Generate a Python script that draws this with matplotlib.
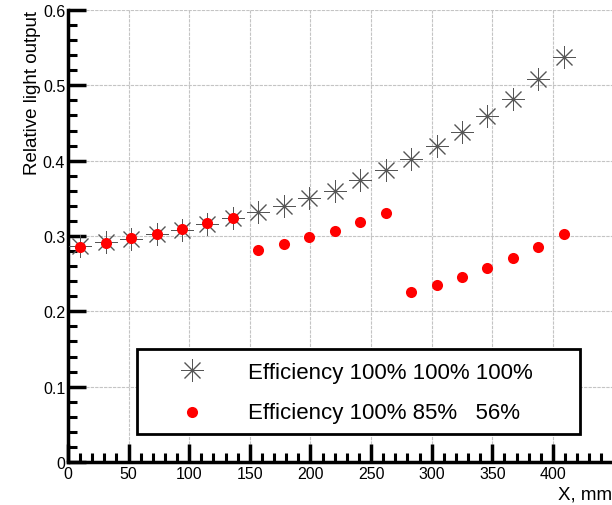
import numpy as np
import matplotlib
matplotlib.use("Agg")
from matplotlib import pyplot as plt
from matplotlib.ticker import MultipleLocator, FixedLocator

plt.rcParams['font.family'] = ['Liberation Sans', 'DejaVu Sans']

# positions along the bar, mm
x_mm = [10, 31, 52, 73, 94, 115, 136, 157, 178, 199,
        220, 241, 262, 283, 304, 325, 346, 367, 388, 409]

# light output, all segments at full efficiency
light_full = [0.287, 0.292, 0.296, 0.303, 0.308, 0.316, 0.324, 0.332, 0.340, 0.351,
              0.360, 0.374, 0.388, 0.402, 0.420, 0.438, 0.459, 0.482, 0.509, 0.538]

# light output, segments at 100% / 85% / 56%
light_reduced = [0.286, 0.291, 0.297, 0.302, 0.309, 0.317, 0.324, 0.282, 0.290, 0.299,
                 0.307, 0.319, 0.330, 0.226, 0.235, 0.245, 0.257, 0.271, 0.286, 0.302]

label_full = "Efficiency 100% 100% 100%"
label_reduced = "Efficiency 100% 85%   56%"

star = dict(marker=(8, 2, 0), markersize=16, markeredgewidth=0.7, color='#555555')
dot = dict(marker='o', markersize=8, markeredgewidth=0, color='#ff0000')

fig = plt.figure(figsize=(6.12, 5.06), dpi=100)
ax = fig.add_axes([68 / 612, 43 / 506, (612 - 68) / 612, (463 - 11) / 506])

ax.plot(x_mm, light_full, linestyle='none', zorder=3, **star)
ax.plot(x_mm, light_reduced, linestyle='none', zorder=4, **dot)

ax.set_xlim(0, 448.7)
ax.set_ylim(0, 0.6)

for s in ['top', 'right']:
    ax.spines[s].set_visible(False)
for s in ['left', 'bottom']:
    ax.spines[s].set_linewidth(2.5)

ax.xaxis.set_major_locator(FixedLocator([0, 50, 100, 150, 200, 250, 300, 350, 400, 450]))
ax.xaxis.set_minor_locator(MultipleLocator(10))
ax.yaxis.set_major_locator(MultipleLocator(0.1))
ax.yaxis.set_minor_locator(MultipleLocator(0.02))
ax.set_xticklabels(['0', '50', '100', '150', '200', '250', '300', '350', '400', ''])
ax.set_yticks([0, 0.1, 0.2, 0.3, 0.4, 0.5, 0.6])
ax.set_yticklabels(['0', '0.1', '0.2', '0.3', '0.4', '0.5', '0.6'])

ax.tick_params(which='major', direction='in', length=13, width=2.5, labelsize=11.5, pad=3)
ax.tick_params(which='minor', direction='in', length=6.5, width=2.2)
ax.tick_params(axis='y', which='major', pad=2)

ax.grid(True, which='major', color='#c4c4c4', linewidth=0.8, linestyle=(0, (3, 1)))
ax.set_axisbelow(True)

ax.set_ylabel("Relative light output", fontsize=13.5, loc='top', labelpad=1)
ax.set_xlabel("X, mm", fontsize=13.5, loc='right', labelpad=3)

# legend box drawn by hand in figure pixels
box = plt.Rectangle((137 / 612, (506 - 435) / 506), (580 - 137) / 612, (435 - 350) / 506,
                    transform=fig.transFigure, facecolor='white', edgecolor='black',
                    linewidth=2, zorder=10)
fig.patches.append(box)
fig.lines.append(plt.Line2D([192 / 612], [(506 - 371) / 506], transform=fig.transFigure,
                            linestyle='none', zorder=11, **star))
fig.lines.append(plt.Line2D([192 / 612], [(506 - 413) / 506], transform=fig.transFigure,
                            linestyle='none', zorder=11, **dot))
fig.text(248 / 612, (506 - 373) / 506, label_full, fontsize=16, va='center', zorder=12)
fig.text(248 / 612, (506 - 414) / 506, label_reduced, fontsize=16, va='center', zorder=12)

fig.savefig("out.png", dpi=100)
